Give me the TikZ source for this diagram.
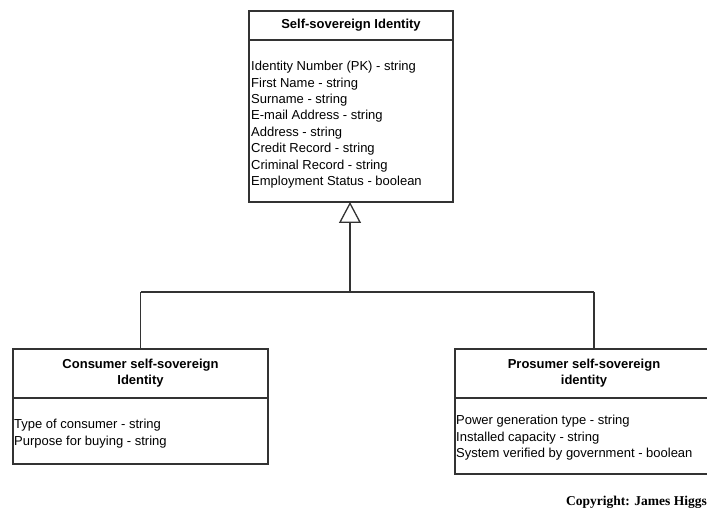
\documentclass[tikz,border=0pt]{standalone}
\usepackage{fontspec}
\setmainfont{Liberation Sans}
\newfontfamily\copyfont{Liberation Serif}
\usetikzlibrary{arrows.meta}
\definecolor{ln}{HTML}{333333}
\tikzset{
  boxpart/.style={draw=ln, line width=1.3pt, minimum width=#1, inner sep=0pt, outer sep=0pt},
  hdr/.style={font=\fontsize{13}{16}\selectfont\bfseries, align=center, inner sep=0pt},
  attrs/.style={font=\fontsize{13}{16.4}\selectfont, align=left, anchor=north west, inner sep=0pt},
  conn/.style={draw=ln, line width=1.3pt},
  gen/.style={conn, -{Triangle[open, length=21pt, width=22pt]}}
}
\begin{document}
\begin{tikzpicture}[x=1pt,y=-1pt]
\useasboundingbox (0,0) rectangle (707,513);
\clip (0,0) rectangle (707,513);
% top class
\node[boxpart=204pt, minimum height=29pt] (toph) at (351,25.5) {};
\node[boxpart=204pt, minimum height=162pt] (topb) at (351,121) {};
\node[hdr] (topt) at (toph.center) {Self-sovereign Identity};
\node[attrs] (topa) at (251,61) {Identity Number (PK) - string\\First Name - string\\Surname - string\\E-mail Address - string\\Address - string\\Credit Record - string\\Criminal Record - string\\Employment Status - boolean};
% consumer
\node[boxpart=255pt, minimum height=49pt] (conh) at (140.5,373.5) {};
\node[boxpart=255pt, minimum height=66pt] (conb) at (140.5,431) {};
\node[hdr] (cont) at (conh.center) {Consumer self-sovereign\\Identity};
\node[attrs] (cona) at (14,419) {Type of consumer - string\\Purpose for buying - string};
% prosumer
\node[boxpart=258pt, minimum height=49pt] (proh) at (584,373.5) {};
\node[boxpart=258pt, minimum height=76pt] (prob) at (584,436) {};
\node[hdr] (prot) at (proh.center) {Prosumer self-sovereign\\identity};
\node[attrs] (proa) at (456,415) {Power generation type - string\\Installed capacity - string\\System verified by government - boolean};
% connectors
\coordinate (j) at (350,292);
\coordinate (jl) at (140.5,292);
\coordinate (jr) at (594,292);
\draw[conn] (jl) -- (jr);
\draw[conn] (jl) -- (jl |- conh.north);
\draw[conn] (jr) -- (jr |- proh.north);
\draw[gen] (j) -- (j |- topb.south);
% copyright
\node[font=\copyfont\fontsize{13.5}{15}\selectfont\bfseries, anchor=base west, inner sep=0pt] (copy) at (566,505) {Copyright: James Higgs};
\end{tikzpicture}
\end{document}
